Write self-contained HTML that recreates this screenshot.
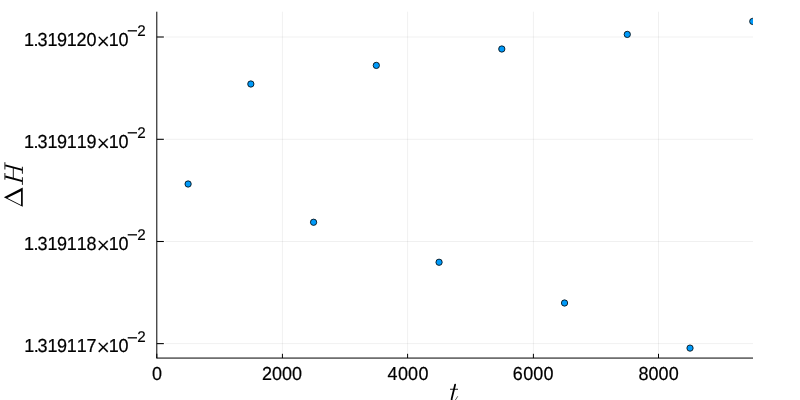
<!DOCTYPE html><html><head><meta charset="utf-8"><style>html,body{margin:0;padding:0;background:#fff;}svg{display:block;will-change:transform}text{font-family:"Liberation Sans",sans-serif;fill:#000;text-rendering:geometricPrecision}.d{stroke:#000;stroke-width:0.2px}.x{stroke:#fff;stroke-width:0.12px}.s{font-family:"Liberation Serif",serif;font-style:italic}</style></head><body>
<svg width="800" height="400" viewBox="0 0 800 400">
<rect width="800" height="400" fill="#fff"/>
<defs><clipPath id="c"><rect x="156.73" y="11.70" width="596.27" height="346.37"/></clipPath></defs>
<line x1="282.42" y1="11.70" x2="282.42" y2="352.80" stroke="#000" stroke-opacity="0.1" stroke-width="0.6"/>
<line x1="407.60" y1="11.70" x2="407.60" y2="352.80" stroke="#000" stroke-opacity="0.1" stroke-width="0.6"/>
<line x1="533.40" y1="11.70" x2="533.40" y2="352.80" stroke="#000" stroke-opacity="0.1" stroke-width="0.6"/>
<line x1="658.50" y1="11.70" x2="658.50" y2="352.80" stroke="#000" stroke-opacity="0.1" stroke-width="0.6"/>
<line x1="165.20" y1="37.00" x2="753.00" y2="37.00" stroke="#000" stroke-opacity="0.1" stroke-width="0.6"/>
<line x1="165.20" y1="139.30" x2="753.00" y2="139.30" stroke="#000" stroke-opacity="0.1" stroke-width="0.6"/>
<line x1="165.20" y1="241.50" x2="753.00" y2="241.50" stroke="#000" stroke-opacity="0.1" stroke-width="0.6"/>
<line x1="165.20" y1="343.63" x2="753.00" y2="343.63" stroke="#000" stroke-opacity="0.1" stroke-width="0.6"/>
<line x1="156.80" y1="11.70" x2="156.80" y2="358.27" stroke="#000" stroke-width="1"/>
<line x1="156.50" y1="358.07" x2="753.00" y2="358.07" stroke="#000" stroke-width="1"/>
<line x1="156.80" y1="358.07" x2="156.80" y2="353.75" stroke="#000" stroke-width="1"/>
<line x1="282.42" y1="358.07" x2="282.42" y2="353.75" stroke="#000" stroke-width="1"/>
<line x1="407.60" y1="358.07" x2="407.60" y2="353.75" stroke="#000" stroke-width="1"/>
<line x1="533.40" y1="358.07" x2="533.40" y2="353.75" stroke="#000" stroke-width="1"/>
<line x1="658.50" y1="358.07" x2="658.50" y2="353.75" stroke="#000" stroke-width="1"/>
<line x1="156.80" y1="37.00" x2="163.85" y2="37.00" stroke="#000" stroke-width="1.08"/>
<line x1="156.80" y1="139.30" x2="163.85" y2="139.30" stroke="#000" stroke-width="1.08"/>
<line x1="156.80" y1="241.50" x2="163.85" y2="241.50" stroke="#000" stroke-width="1.08"/>
<line x1="156.80" y1="343.63" x2="163.85" y2="343.63" stroke="#000" stroke-width="1.08"/>
<text x="151.89" y="380.1" font-size="18.0" class="d" transform="matrix(1 0 0 1.050 0 -19.005)">0</text>
<text x="262.02 271.89 281.89 291.99" y="380.1" font-size="18.0" class="d" transform="matrix(1 0 0 1.050 0 -19.005)">2000</text>
<text x="387.45 397.99 407.99 418.44" y="380.1" font-size="18.0" class="d" transform="matrix(1 0 0 1.050 0 -19.005)">4000</text>
<text x="512.77 523.15 533.29 543.46" y="380.1" font-size="18.0" class="d" transform="matrix(1 0 0 1.050 0 -19.005)">6000</text>
<text x="638.46 648.46 658.59 668.79" y="380.1" font-size="18.0" class="d" transform="matrix(1 0 0 1.050 0 -19.005)">8000</text>
<text x="23.90 33.40 37.45 47.50 57.10 66.85 76.49 86.59" y="45.60" font-size="18.0" class="d" transform="matrix(1 0 0 1.050 0 -2.280)">1.319120</text>
<text x="96.38" y="48.51" font-size="23.0" class="x">×</text>
<text x="108.75 118.49" y="45.60" font-size="18.0" class="d" transform="matrix(1 0 0 1.050 0 -2.280)">10</text>
<text x="127.09" y="37.30" font-size="18.5" class="d">−</text>
<text x="137.27" y="35.75" font-size="15.2" class="d" transform="matrix(1 0 0 1.020 0 -0.715)">2</text>
<text x="23.90 33.40 37.45 47.50 57.10 66.85 76.75 86.60" y="147.60" font-size="18.0" class="d" transform="matrix(1 0 0 1.050 0 -7.380)">1.319119</text>
<text x="96.38" y="150.51" font-size="23.0" class="x">×</text>
<text x="108.75 118.49" y="147.60" font-size="18.0" class="d" transform="matrix(1 0 0 1.050 0 -7.380)">10</text>
<text x="127.09" y="139.30" font-size="18.5" class="d">−</text>
<text x="137.27" y="137.75" font-size="15.2" class="d" transform="matrix(1 0 0 1.020 0 -2.755)">2</text>
<text x="23.90 33.40 37.45 47.50 57.10 66.85 76.75 86.59" y="249.70" font-size="18.0" class="d" transform="matrix(1 0 0 1.050 0 -12.485)">1.319118</text>
<text x="96.38" y="252.61" font-size="23.0" class="x">×</text>
<text x="108.75 118.49" y="249.70" font-size="18.0" class="d" transform="matrix(1 0 0 1.050 0 -12.485)">10</text>
<text x="127.09" y="241.40" font-size="18.5" class="d">−</text>
<text x="137.27" y="239.85" font-size="15.2" class="d" transform="matrix(1 0 0 1.020 0 -4.797)">2</text>
<text x="24.30 33.70 37.45 47.50 57.10 66.85 76.75 86.59" y="352.15" font-size="18.0" class="d" transform="matrix(1 0 0 1.050 0 -17.608)">1.319117</text>
<text x="96.38" y="355.06" font-size="23.0" class="x">×</text>
<text x="108.75 118.49" y="352.15" font-size="18.0" class="d" transform="matrix(1 0 0 1.050 0 -17.608)">10</text>
<text x="127.09" y="343.85" font-size="18.5" class="d">−</text>
<text x="137.27" y="342.30" font-size="15.2" class="d" transform="matrix(1 0 0 1.020 0 -6.846)">2</text>
<g clip-path="url(#c)">
<circle cx="188.10" cy="184.00" r="3.15" fill="#009af9" stroke="#000" stroke-width="0.8"/>
<circle cx="250.84" cy="84.00" r="3.15" fill="#009af9" stroke="#000" stroke-width="0.8"/>
<circle cx="313.58" cy="222.25" r="3.15" fill="#009af9" stroke="#000" stroke-width="0.8"/>
<circle cx="376.32" cy="65.40" r="3.15" fill="#009af9" stroke="#000" stroke-width="0.8"/>
<circle cx="439.06" cy="262.25" r="3.15" fill="#009af9" stroke="#000" stroke-width="0.8"/>
<circle cx="501.80" cy="49.00" r="3.15" fill="#009af9" stroke="#000" stroke-width="0.8"/>
<circle cx="564.54" cy="303.00" r="3.15" fill="#009af9" stroke="#000" stroke-width="0.8"/>
<circle cx="627.28" cy="34.40" r="3.15" fill="#009af9" stroke="#000" stroke-width="0.8"/>
<circle cx="690.02" cy="348.10" r="3.15" fill="#009af9" stroke="#000" stroke-width="0.8"/>
<circle cx="752.76" cy="21.40" r="3.15" fill="#009af9" stroke="#000" stroke-width="0.8"/>
</g>
<g stroke="#000" fill="none" stroke-linecap="butt"><title>t</title>
<path d="M455.1,384.7 L451.75,398.5 Q451.3,400.6 452.6,401.5" stroke-width="1.75" stroke-linecap="round"/>
<path d="M450.0,389.25 H458.0" stroke-width="0.9"/>
<path d="M453.5,401.5 Q455.6,400.6 457.75,396.25" stroke-width="0.65"/>
</g>
<g stroke="#000" fill="none" stroke-linecap="butt"><title>ΔH</title>
<path d="M3.85,197.35 L22.75,187.55 L22.75,206.8 Z M7.3,198.05 L21.05,205.0 L21.05,191.25 Z" fill="#000" fill-rule="evenodd" stroke="none"/>
<path d="M5.25,165.35 L22.4,169.9 M5.25,176.55 L22.4,181.1" stroke-width="2.0"/>
<path d="M13.3,167.8 V178.3 M4.9,162.2 V169.5 M22.4,166.75 V173.75 M4.9,173 V179.7 M22.4,177.2 V184.9" stroke-width="0.9"/>
</g>
</svg></body></html>
